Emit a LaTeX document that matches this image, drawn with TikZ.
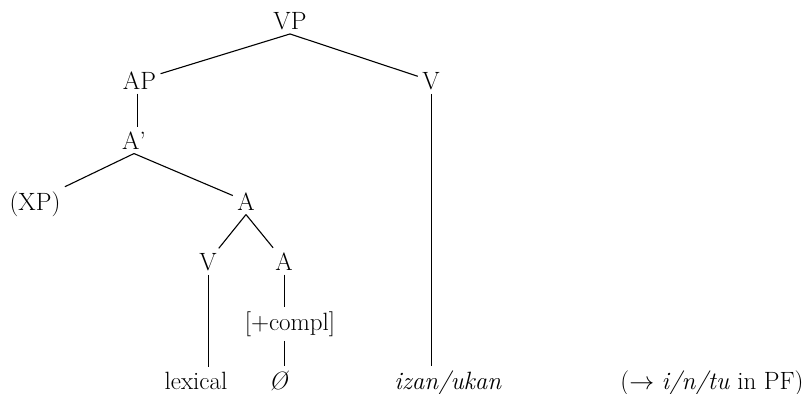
\documentclass[tikz,border=0pt]{standalone}
\usepackage{fontspec}
\usepackage{amsmath}
\usetikzlibrary{positioning}
\usetikzlibrary{calc}

\begin{document}
\begin{tikzpicture}[x=1pt, y=-1pt, line width=1.1pt, every node/.style={font=\fontsize{25}{30}\selectfont, inner sep=4pt, anchor=base}]
        \useasboundingbox (0, 0) rectangle (807, 394);

        \node (vp) at (290, 29) {VP};

        \node (ap) at (139.5, 89) {AP};
        \node (v) at (431, 89) {V};

        \node (abar) at (134, 149) {A'};

        \node (xp) at (35, 210) {(XP)};
        \node (amid) at (246, 210) {A};

        \node (vlow) at (208, 270) {V};
        \node (alow) at (284, 270) {A};

        \node (compl) at (290, 330) {[+compl]};

        \node (lex) at (196, 389) {lexical};
        \node (null) at (279, 389) {\textit{Ø}};
        \node (izan) at (448, 389) {\textit{izan/ukan}};
        \node (pf) at (712, 389) {($\rightarrow$ \textit{i/n/tu} in PF)};

        \draw (vp.south) -- (ap);
        \draw (vp.south) -- (v);
        \draw[line width=0.7pt] (v.south) -- (v.south |- izan.north);
        \draw[line width=0.7pt] ([xshift=-2pt]ap.south) -- ([xshift=-2pt]ap.south |- abar.north);
        \draw (abar.south) -- (xp.north east);
        \draw (abar.south) -- (amid);
        \draw (amid.south) -- (vlow);
        \draw (amid.south) -- (alow);
        \draw[line width=0.7pt] (vlow.south) -- (vlow.south |- lex.north);
        \draw[line width=0.7pt] (alow.south) -- (alow.south |- compl.north);
        \draw[line width=0.7pt] (alow.south |- compl.south) -- (alow.south |- null.north);
      \end{tikzpicture}
\end{document}
